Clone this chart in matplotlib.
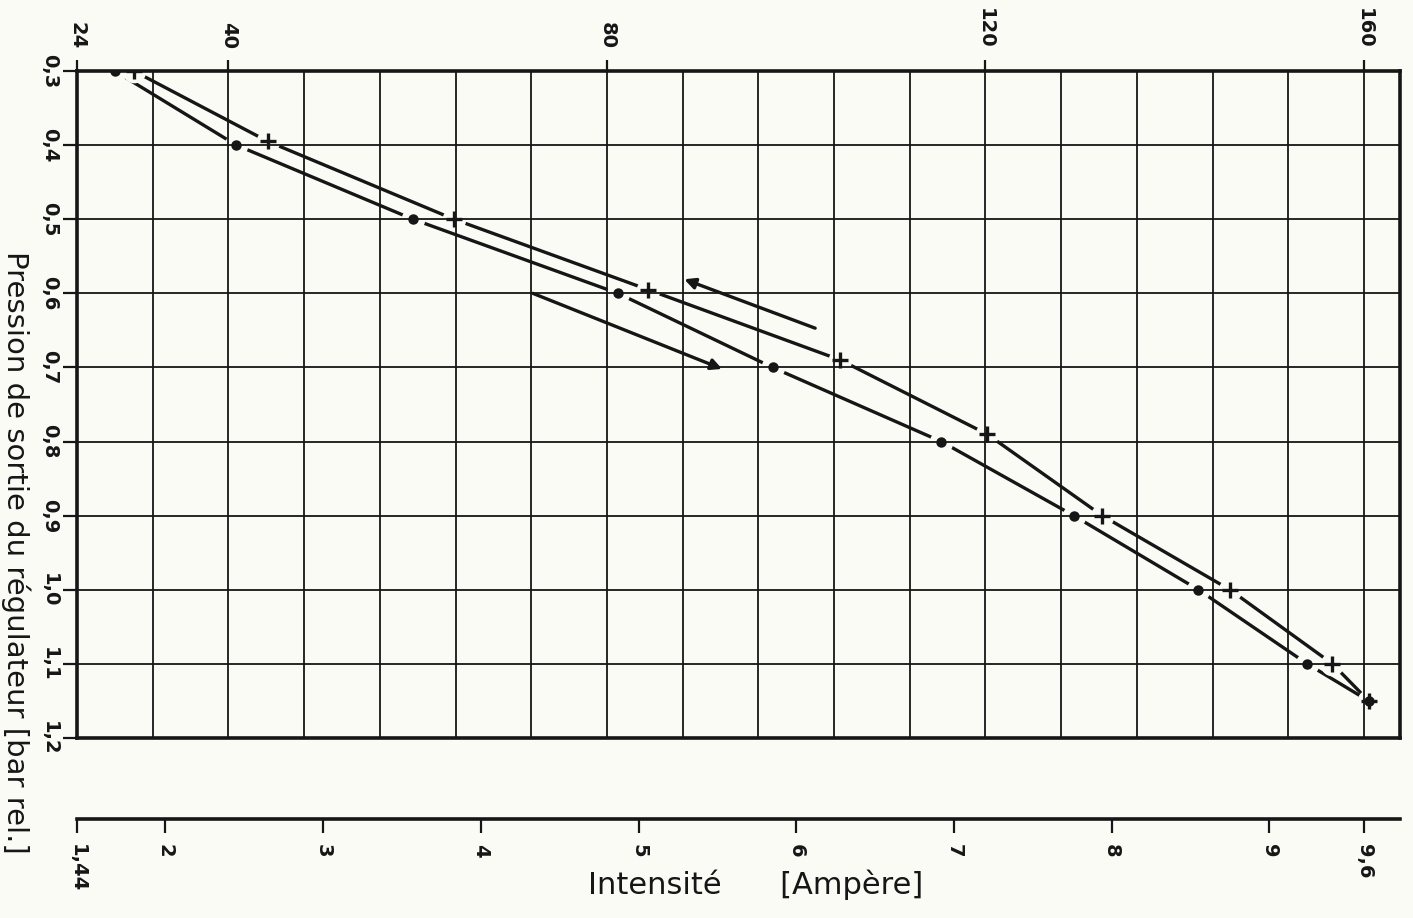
import numpy as np
import matplotlib
matplotlib.use("Agg")
import matplotlib.pyplot as plt

# Regulator outlet pressure versus coil current (two runs)
current_up = [1.68, 2.45, 3.57, 4.87, 5.85, 6.92, 7.76, 8.55, 9.24, 9.63]      # A, "o" run
pressure_up = [0.30, 0.40, 0.50, 0.60, 0.70, 0.80, 0.90, 1.00, 1.10, 1.15]     # bar rel.
current_down = [1.80, 2.65, 3.83, 5.06, 6.28, 7.21, 7.94, 8.75, 9.40, 9.63]    # A, "+" run
pressure_down = [0.30, 0.395, 0.50, 0.595, 0.69, 0.79, 0.90, 1.00, 1.10, 1.15]

# direction arrows (tail, head) in (A, bar)
arrow_low = [(4.33, 0.60), (5.53, 0.702)]
arrow_high = [(6.12, 0.647), (5.29, 0.581)]

# scales
top_ticks = [24, 40, 80, 120, 160]
top_labels = ["24", "40", "80", "120", "160"]
amp_ticks = [1.44, 2, 3, 4, 5, 6, 7, 8, 9, 9.6]
amp_labels = ["1,44", "2", "3", "4", "5", "6", "7", "8", "9", "9,6"]
p_ticks = [0.3, 0.4, 0.5, 0.6, 0.7, 0.8, 0.9, 1.0, 1.1, 1.2]
p_labels = ["0,3", "0,4", "0,5", "0,6", "0,7", "0,8", "0,9", "1,0", "1,1", "1,2"]

K = 160 / 9.6           # top-scale units per ampere
ink = "#161616"
paper = "#fbfbf6"
tick_font = dict(fontsize=14, fontweight="bold")

fig = plt.figure(figsize=(14.13, 9.18), dpi=100, facecolor=paper)
ax = fig.add_axes([77 / 1413, 1 - 738 / 918, (1400 - 77) / 1413, (738 - 71) / 918])
ax.set_facecolor(paper)

ax.set_xlim(24 / K, 163.8 / K)
ax.set_ylim(1.2, 0.3)

# square grid: 8 top-units by 0.1 bar
ax.set_xticks(np.arange(24, 161, 8) / K)
ax.tick_params(axis="x", length=0, labelbottom=False)
ax.set_yticks(p_ticks)
ax.set_yticklabels(p_labels, rotation=-90, va="center", ha="right", **tick_font)
ax.tick_params(axis="y", direction="out", length=10, width=1.6, color=ink, pad=3, labelcolor=ink)
ax.grid(True, color=ink, lw=1.3)
for s in ax.spines.values():
    s.set_linewidth(2.6)
    s.set_color(ink)

# curves with gaps around each reading
for xs, ys, mk, ms, mew in [(current_up, pressure_up, "o", 6, 1.5),
                            (current_down, pressure_down, "+", 11, 2.4)]:
    ax.plot(xs, ys, color=ink, lw=2.4, zorder=1.0, solid_capstyle="round")
    ax.plot(xs, ys, ls="none", marker="o", ms=17, mfc=paper, mec="none", zorder=1.2)
    ax.plot(xs, ys, ls="none", marker=mk, ms=ms, color=ink, mew=mew, zorder=3)

for tail, head in (arrow_low, arrow_high):
    ax.annotate("", xy=head, xytext=tail,
                arrowprops=dict(arrowstyle="-|>", lw=2.4, color=ink, mutation_scale=16,
                                shrinkA=0, shrinkB=0), zorder=3)

# upper scale
top = ax.secondary_xaxis("top", functions=(lambda a: a * K, lambda t: t / K))
top.set_xticks(top_ticks)
top.set_xticklabels(top_labels, rotation=-90, ha="center", va="bottom", **tick_font)
top.tick_params(direction="out", length=8, width=1.6, color=ink, pad=8, labelcolor=ink)
top.spines["top"].set_visible(False)

# ampere scale below the grid
bot = ax.secondary_xaxis(-0.1214)
bot.set_xticks(amp_ticks)
bot.set_xticklabels(amp_labels, rotation=-90, ha="center", va="top", **tick_font)
bot.tick_params(direction="out", length=10, width=1.6, color=ink, pad=8, labelcolor=ink)
bot.spines["bottom"].set_linewidth(2.6)
bot.spines["bottom"].set_color(ink)

fig.text(0.535, 0.036, "Intensité      [Ampère]", ha="center", va="center", fontsize=22, color=ink)
fig.text(0.011, 0.398, "Pression de sortie du régulateur [bar rel.]", rotation=-90,
         ha="center", va="center", fontsize=21, color=ink)

fig.savefig("out.png", dpi=100, facecolor=paper)
